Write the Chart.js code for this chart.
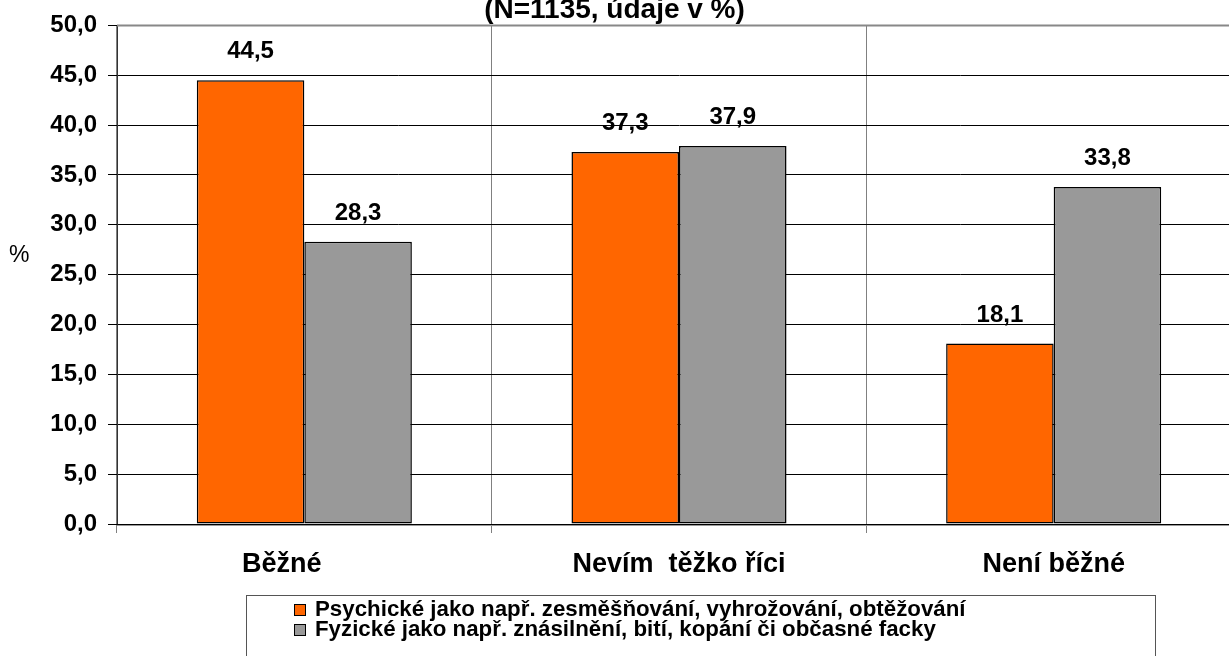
<!DOCTYPE html>
<html>
<head>
<meta charset="utf-8">
<script src="https://cdn.jsdelivr.net/npm/chart.js@4/dist/chart.umd.min.js"></script>
<style>
html,body{margin:0;padding:0;width:1229px;height:656px;overflow:hidden;background:#fff;font-family:"Liberation Sans",Arial,sans-serif;}
#wrap{position:absolute;left:0;top:0;width:1262px;height:656px;}
#title{position:absolute;left:0;top:-5px;width:1229px;text-align:center;font-weight:bold;font-size:28px;line-height:28px;color:#000;white-space:nowrap;}
#ytitle{position:absolute;left:9px;top:243px;font-size:23px;line-height:23px;color:#000;}
#legend{position:absolute;left:246px;top:595px;width:910px;height:80px;border:1px solid #555;box-sizing:border-box;}
.row{position:absolute;left:47px;height:20px;white-space:nowrap;font-weight:bold;font-size:22.3px;line-height:20px;color:#000;}
.sw{position:absolute;left:0;top:5px;width:10px;height:10px;border:1px solid #000;}
.row span.t{position:absolute;left:21px;top:0;}
</style>
</head>
<body>
<div id="wrap"><canvas id="c" width="1262" height="656" style="width:1262px;height:656px"></canvas></div>
<div id="title"></div>
<div id="ytitle"></div>
<div id="legend"></div>
<script>
const titleText = "(N=1135, údaje v %)";
const yAxisTitle = "%";
const categories = ["Běžné      ", "Nevím  těžko říci", "Není běžné"];
const seriesNames = [
  "Psychické jako např. zesměšňování, vyhrožování, obtěžování",
  "Fyzické jako např. znásilnění, bití, kopání či občasné facky"
];
const psychicke = [44.5, 37.3, 18.1];
const fyzicke = [28.3, 37.9, 33.8];
const seriesColors = ["#FF6600", "#999999"];
const yTicks = [0, 5, 10, 15, 20, 25, 30, 35, 40, 45, 50];

const fmt = v => v.toFixed(1).replace('.', ',');

document.getElementById('title').textContent = titleText;
document.getElementById('ytitle').textContent = yAxisTitle;
const leg = document.getElementById('legend');
seriesNames.forEach((n, i) => {
  const r = document.createElement('div');
  r.className = 'row';
  r.style.top = (3 + i * 20) + 'px';
  const sw = document.createElement('span');
  sw.className = 'sw';
  sw.style.background = seriesColors[i];
  const t = document.createElement('span');
  t.className = 't';
  t.textContent = n;
  r.appendChild(sw); r.appendChild(t);
  leg.appendChild(r);
});

const FONT = '"Liberation Sans", Arial, sans-serif';

const valueLabels = {
  id: 'valueLabels',
  afterDatasetsDraw(chart) {
    const ctx = chart.ctx;
    ctx.save();
    ctx.font = 'bold 24px ' + FONT;
    ctx.fillStyle = '#000';
    ctx.textAlign = 'center';
    ctx.textBaseline = 'alphabetic';
    chart.data.datasets.forEach((ds, di) => {
      chart.getDatasetMeta(di).data.forEach((bar, i) => {
        ctx.fillText(fmt(ds.data[i]), bar.x, bar.y - 22);
      });
    });
    ctx.restore();
  }
};

const frame = {
  id: 'frame',
  beforeDatasetsDraw(chart) {
    const {ctx, chartArea: a} = chart;
    ctx.save();
    ctx.strokeStyle = '#888';
    ctx.lineWidth = 2;
    ctx.beginPath(); ctx.moveTo(a.left, a.top); ctx.lineTo(a.right, a.top); ctx.stroke();
    ctx.restore();
  },
  afterDatasetsDraw(chart) {
    const {ctx, chartArea: a} = chart;
    ctx.save();
    ctx.strokeStyle = '#999';
    ctx.lineWidth = 1;
    ctx.beginPath(); ctx.moveTo(a.left, a.bottom + 1.5); ctx.lineTo(a.right, a.bottom + 1.5); ctx.stroke();
    ctx.strokeStyle = '#000';
    ctx.beginPath(); ctx.moveTo(a.left, a.bottom + 0.5); ctx.lineTo(a.right, a.bottom + 0.5); ctx.stroke();
    ctx.restore();
  }
};

new Chart(document.getElementById('c'), {
  type: 'bar',
  data: {
    labels: categories,
    datasets: [
      {label: seriesNames[0], data: psychicke, backgroundColor: seriesColors[0], borderColor: '#000', borderWidth: 1.5, borderSkipped: false},
      {label: seriesNames[1], data: fyzicke, backgroundColor: seriesColors[1], borderColor: '#000', borderWidth: 1.5, borderSkipped: false}
    ]
  },
  options: {
    responsive: false,
    maintainAspectRatio: false,
    animation: false,
    devicePixelRatio: 1,
    layout: {padding: {top: 23, left: 0, right: 21, bottom: 0}},
    datasets: {bar: {categoryPercentage: 0.574, barPercentage: 1.0}},
    plugins: {legend: {display: false}, title: {display: false}, tooltip: {enabled: false}},
    scales: {
      x: {
        grid: {display: true, offset: true, color: '#808080', lineWidth: 1, tickLength: 9, drawTicks: true},
        border: {display: false},
        ticks: {font: {family: FONT, size: 27, weight: 'bold'}, color: '#000', padding: 15, maxRotation: 0, autoSkip: false},
        afterFit: s => { s.height = 656 - 524; }
      },
      y: {
        min: 0, max: 50,
        afterBuildTicks: s => { s.ticks = yTicks.map(v => ({value: v})); },
        grid: {color: '#000', lineWidth: 1, tickLength: 9, drawTicks: true},
        border: {display: true, color: '#333', width: 1},
        ticks: {font: {family: FONT, size: 24, weight: 'bold'}, color: '#000', padding: 11, callback: v => fmt(v)},
        afterFit: s => { s.width = 117; }
      }
    }
  },
  plugins: [frame, valueLabels]
});
</script>
</body>
</html>
